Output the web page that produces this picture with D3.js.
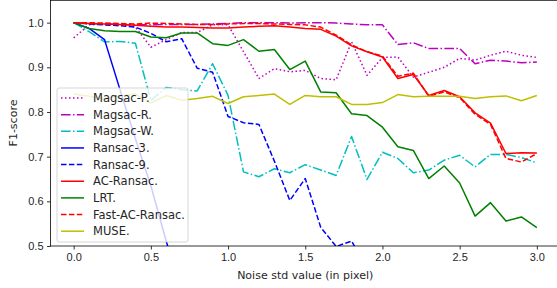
<!DOCTYPE html>
<html>
<head>
<meta charset="utf-8">
<script src="https://cdn.jsdelivr.net/npm/d3@7"></script>
<style>
  body { margin: 0; background: #fff; }
  svg { display: block; font-family: 'DejaVu Sans', sans-serif; }
</style>
</head>
<body>
<div id="chart"></div>
<script>
//Data
const noise = [0.0, 0.1, 0.2, 0.3, 0.4, 0.5, 0.6, 0.7, 0.8, 0.9, 1.0, 1.1, 1.2, 1.3, 1.4, 1.5,
  1.6, 1.7, 1.8, 1.9, 2.0, 2.1, 2.2, 2.3, 2.4, 2.5, 2.6, 2.7, 2.8, 2.9, 3.0];

const magsacP = [0.966, 0.995, 0.997, 0.996, 0.99, 0.945, 0.962, 0.978, 0.978, 0.995, 0.995, 0.935,
  0.875, 0.897, 0.89, 0.893, 0.875, 0.872, 0.957, 0.882, 0.922, 0.923, 0.878, 0.889, 0.9, 0.92,
  0.916, 0.927, 0.936, 0.927, 0.922];
const magsacR = [1.0, 0.998, 0.997, 0.996, 0.995, 0.995, 0.996, 0.996, 0.996, 0.997, 0.998, 1.0,
  1.0, 1.0, 0.999, 1.0, 1.0, 0.999, 0.997, 0.995, 0.995, 0.951, 0.955, 0.942, 0.942, 0.942,
  0.908, 0.916, 0.914, 0.91, 0.912];
const magsacW = [1.0, 0.98, 0.957, 0.958, 0.954, 0.826, 0.855, 0.85, 0.847, 0.908, 0.837, 0.666,
  0.655, 0.673, 0.664, 0.682, 0.67, 0.658, 0.745, 0.649, 0.71, 0.696, 0.664, 0.67, 0.692, 0.703,
  0.677, 0.705, 0.705, 0.698, 0.686];
const ransac3 = [1.0, 0.987, 0.962, 0.85, 0.74, 0.635, 0.51, 0.40, 0.30, 0.22, 0.16, 0.11, 0.08,
  0.05, 0.04, 0.03, 0.02, 0.02, 0.01, 0.01, 0.01, 0.0, 0.0, 0.0, 0.0, 0.0, 0.0, 0.0, 0.0, 0.0, 0.0];
const ransac9 = [1.0, 0.997, 0.995, 0.993, 0.99, 0.976, 0.957, 0.964, 0.898, 0.889, 0.79, 0.776,
  0.772, 0.69, 0.602, 0.651, 0.542, 0.499, 0.511, 0.45, 0.40, 0.36, 0.31, 0.27, 0.24, 0.21,
  0.18, 0.16, 0.14, 0.12, 0.11];
const acRansac = [1.0, 0.998, 0.997, 0.996, 0.994, 0.992, 0.99, 0.99, 0.989, 0.988, 0.988, 0.99,
  0.992, 0.993, 0.99, 0.987, 0.985, 0.97, 0.948, 0.935, 0.923, 0.875, 0.884, 0.837, 0.848, 0.834,
  0.798, 0.775, 0.707, 0.709, 0.708];
const lrt = [1.0, 0.987, 0.982, 0.98, 0.98, 0.968, 0.966, 0.977, 0.977, 0.953, 0.949, 0.962,
  0.936, 0.94, 0.895, 0.914, 0.845, 0.843, 0.796, 0.792, 0.766, 0.722, 0.714, 0.651, 0.679, 0.641,
  0.567, 0.597, 0.556, 0.565, 0.541];
const fastAcRansac = [1.0, 1.0, 0.999, 0.998, 0.997, 0.999, 0.998, 0.997, 0.996, 0.996, 0.997,
  0.998, 0.998, 0.997, 0.996, 0.995, 0.99, 0.972, 0.95, 0.935, 0.925, 0.88, 0.887, 0.835, 0.845,
  0.832, 0.795, 0.772, 0.696, 0.688, 0.707];
const muse = [0.84, 0.835, 0.83, 0.835, 0.84, 0.82, 0.837, 0.826, 0.83, 0.835, 0.819, 0.834,
  0.837, 0.84, 0.817, 0.837, 0.834, 0.834, 0.817, 0.817, 0.821, 0.839, 0.834, 0.835, 0.835, 0.835,
  0.83, 0.834, 0.836, 0.825, 0.837];

const seriesNames = ['Magsac-P.', 'Magsac-R.', 'Magsac-W.', 'Ransac-3.', 'Ransac-9.',
  'AC-Ransac.', 'LRT.', 'Fast-AC-Ransac.', 'MUSE.'];
const seriesValues = [magsacP, magsacR, magsacW, ransac3, ransac9, acRansac, lrt, fastAcRansac, muse];

const xTicks = [0.0, 0.5, 1.0, 1.5, 2.0, 2.5, 3.0];
const yTicks = [0.5, 0.6, 0.7, 0.8, 0.9, 1.0];

//Visual
const width = 557;
const height = 288;
const colors = ['#bf00bf', '#bf00bf', '#00bfbf', '#0000ff', '#0000ff', '#ff0000', '#008000', '#ff0000', '#bfbf00'];
const dashes = ['1.5,2.5', '9.6,2.4,1.5,2.4', '9.6,2.4,1.5,2.4', null, '5.5,2.4', null, null, '5.5,2.4', null];

const plot = { left: 50.5, right: 560, top: 0.3, bottom: 246 };

const xScale = d3.scaleLinear().domain([-0.15, 3.15]).range([plot.left, plot.right]);
const yScale = d3.scaleLinear().domain([0.5, 1.05]).range([plot.bottom, plot.top]);

const svg = d3.select('#chart')
  .append('svg')
  .attr('width', width)
  .attr('height', height);

svg.append('defs').append('clipPath')
  .attr('id', 'clip')
  .append('rect')
  .attr('x', plot.left)
  .attr('y', plot.top)
  .attr('width', plot.right - plot.left)
  .attr('height', plot.bottom - plot.top);

const line = d3.line()
  .x((d, i) => xScale(noise[i]))
  .y(d => yScale(d));

svg.append('g')
  .attr('clip-path', 'url(#clip)')
  .selectAll('path')
  .data(seriesValues)
  .enter()
  .append('path')
  .attr('d', d => line(d))
  .attr('fill', 'none')
  .attr('stroke', (d, i) => colors[i])
  .attr('stroke-width', 1.5)
  .attr('stroke-dasharray', (d, i) => dashes[i])
  .attr('stroke-linejoin', 'round');

// axes
const xAxis = svg.append('g')
  .attr('transform', `translate(0,${plot.bottom})`)
  .call(d3.axisBottom(xScale).tickValues(xTicks).tickFormat(d3.format('.1f')).tickSize(3.5).tickPadding(3.5));

const yAxis = svg.append('g')
  .attr('transform', `translate(${plot.left},0)`)
  .call(d3.axisLeft(yScale).tickValues(yTicks).tickFormat(d3.format('.1f')).tickSize(3.5).tickPadding(3.5));

[xAxis, yAxis].forEach(a => {
  a.select('.domain').remove();
  a.selectAll('line').attr('stroke', '#000').attr('stroke-width', 0.8);
  a.selectAll('text').style('font-size', '11px').attr('fill', '#262626');
});

svg.append('rect')
  .attr('x', plot.left)
  .attr('y', plot.top)
  .attr('width', plot.right - plot.left)
  .attr('height', plot.bottom - plot.top)
  .attr('fill', 'none')
  .attr('stroke', '#000')
  .attr('stroke-width', 0.8);

svg.append('text')
  .text('Noise std value (in pixel)')
  .attr('x', xScale(1.5))
  .attr('y', 279)
  .attr('text-anchor', 'middle')
  .attr('fill', '#262626')
  .style('font-size', '11px');

svg.append('text')
  .text('F1-score')
  .attr('transform', 'translate(17,123) rotate(-90)')
  .attr('text-anchor', 'middle')
  .attr('fill', '#262626')
  .style('font-size', '11px');

// legend
const legend = svg.append('g');
legend.append('rect')
  .attr('x', 57)
  .attr('y', 88)
  .attr('width', 131)
  .attr('height', 154)
  .attr('rx', 2)
  .attr('fill', '#fff')
  .attr('fill-opacity', 0.8)
  .attr('stroke', '#cccccc')
  .attr('stroke-width', 0.8);

const rowY = (d, i) => 98 + i * 16.65;

legend.selectAll('line')
  .data(seriesNames)
  .enter()
  .append('line')
  .attr('x1', 61)
  .attr('x2', 84)
  .attr('y1', rowY)
  .attr('y2', rowY)
  .attr('stroke', (d, i) => colors[i])
  .attr('stroke-width', 1.5)
  .attr('stroke-dasharray', (d, i) => dashes[i]);

legend.selectAll('text')
  .data(seriesNames)
  .enter()
  .append('text')
  .text(d => d)
  .attr('x', 93)
  .attr('y', rowY)
  .attr('dy', '.35em')
  .attr('fill', '#262626')
  .style('font-size', '11.5px');
</script>
</body>
</html>
